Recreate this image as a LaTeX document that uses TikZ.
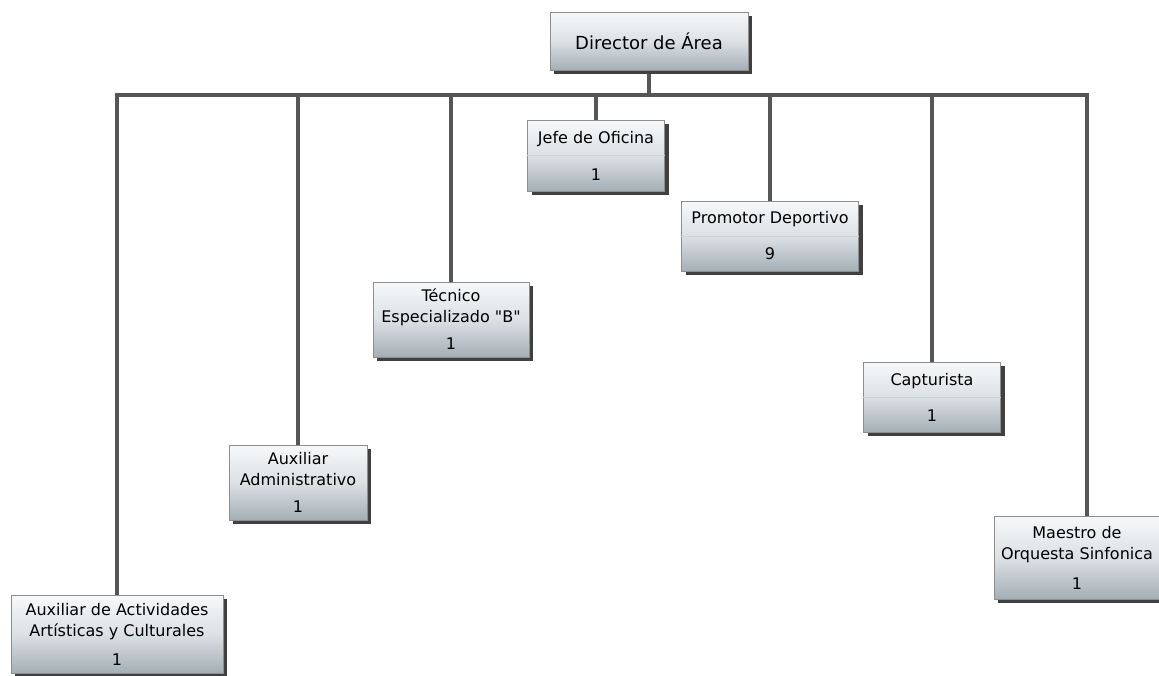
\documentclass[tikz,border=0pt]{standalone}
\usepackage{fontspec}
\setmainfont{DejaVu Sans}[Ligatures=TeXOff]
\usetikzlibrary{shadows,backgrounds}

\definecolor{boxtop}{HTML}{F7F8F9}
\definecolor{boxmid}{HTML}{DCE1E4}
\definecolor{boxbot}{HTML}{A3AFB6}
\definecolor{boxline}{HTML}{8E8E8E}
\definecolor{shade}{HTML}{404040}
\definecolor{wirecol}{HTML}{565656}
\definecolor{divline}{HTML}{CBD1D5}

\tikzset{
  post/.style={rectangle, draw=boxline, line width=0.8pt,
    top color=boxtop, bottom color=boxbot, middle color=boxmid,
    drop shadow={shadow xshift=4pt, shadow yshift=-4pt, fill=shade, opacity=1},
    align=center, inner sep=0pt, text=black,
    font=\fontsize{16}{21}\selectfont},
  wire/.style={draw=wirecol, line width=4pt},
  divider/.style={draw=divline, line width=0.8pt},
}

\begin{document}
\begin{tikzpicture}[x=1pt, y=-1pt]
  \useasboundingbox (0,0) rectangle (1159,675);

  % head of the area
  \node[post, minimum width=198pt, minimum height=58pt,
        font=\fontsize{18}{22}\selectfont] (dir) at (649,41) {Director de Área};

  % subordinate posts
  \node[post, minimum width=212pt, minimum height=78pt] (aux1) at (117,634)
    {Auxiliar de Actividades\\Artísticas y Culturales\\[8pt]1};
  \node[post, minimum width=138pt, minimum height=75pt] (aux2) at (298,482.5)
    {Auxiliar\\Administrativo\\[6pt]1};
  \node[post, minimum width=156pt, minimum height=75pt] (tec) at (451,319.5)
    {Técnico\\Especializado "B"\\[6pt]1};
  \node[post, minimum width=137pt, minimum height=71pt] (jefe) at (596,155.5)
    {Jefe de Oficina\\[16pt]1};
  \node[post, minimum width=177pt, minimum height=70pt] (prom) at (770,236)
    {Promotor Deportivo\\[15pt]9};
  \node[post, minimum width=137pt, minimum height=70pt] (capt) at (932,397)
    {Capturista\\[15pt]1};
  \node[post, minimum width=166pt, minimum height=83pt] (maes) at (1077,557.5)
    {Maestro de\\Orquesta Sinfonica\\[9pt]1};

  % faint separators between title and head count
  \draw[divider] (jefe.west) -- (jefe.east);
  \draw[divider] (prom.west) -- (prom.east);
  \draw[divider] (capt.west) -- (capt.east);

  % reporting lines
  \coordinate (bus) at (0,95);
  \coordinate (maestop) at ([xshift=10pt]maes.north);
  \begin{scope}[on background layer]
    \draw[wire] (aux1.north) -- (aux1.north |- bus) -- (maestop |- bus) -- (maestop);
    \draw[wire] (dir.south) -- (dir.south |- bus);
    \draw[wire] (aux2.north) -- (aux2.north |- bus);
    \draw[wire] (tec.north) -- (tec.north |- bus);
    \draw[wire] (jefe.north) -- (jefe.north |- bus);
    \draw[wire] (prom.north) -- (prom.north |- bus);
    \draw[wire] (capt.north) -- (capt.north |- bus);
  \end{scope}
\end{tikzpicture}
\end{document}
